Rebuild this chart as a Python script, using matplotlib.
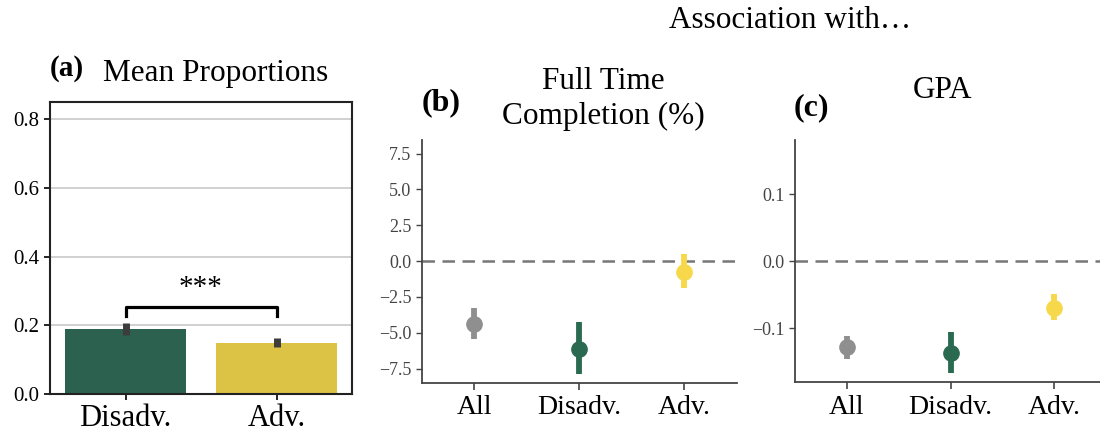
import numpy as np
import matplotlib.pyplot as plt

plt.rcParams['font.family'] = ['Liberation Serif', 'DejaVu Serif']

# panel (a): mean proportions
groups_a = ['Disadv.', 'Adv.']
props = [0.189, 0.149]
props_lo = [0.173, 0.136]
props_hi = [0.206, 0.163]
bar_colors = ['#2d614f', '#dcc346']

# panels (b), (c): associations
groups = ['All', 'Disadv.', 'Adv.']
pt_colors = ['#8f8f8f', '#2a6a50', '#f6d84a']
ftc = [-4.4, -6.1, -0.75]
ftc_lo = [-5.4, -7.9, -1.9]
ftc_hi = [-3.3, -4.25, 0.5]
gpa = [-0.128, -0.137, -0.069]
gpa_lo = [-0.145, -0.166, -0.087]
gpa_hi = [-0.112, -0.106, -0.048]

W, H = 1100, 434
fig = plt.figure(figsize=(W / 100, H / 100), dpi=100)


def box(l, t, r, b):
    return [l / W, 1 - b / H, (r - l) / W, (b - t) / H]


# ---- (a)
ax = fig.add_axes(box(50, 102, 352, 394))
x = np.arange(len(groups_a))
ax.bar(x, props, width=0.8, color=bar_colors, zorder=2)
for i in range(len(x)):
    ax.plot([x[i], x[i]], [props_lo[i], props_hi[i]], color='#3c3c3c', lw=5, zorder=3, solid_capstyle='butt')
ax.set_xlim(-0.5, 1.5)
ax.set_ylim(0, 0.85)
ax.set_yticks([0.0, 0.2, 0.4, 0.6, 0.8])
ax.set_yticklabels(['0.0', '0.2', '0.4', '0.6', '0.8'])
ax.yaxis.grid(True, color='#c8c8c8', lw=1.2, zorder=0)
ax.set_axisbelow(True)
ax.set_xticks(x)
ax.set_xticklabels(groups_a, fontsize=22)
ax.tick_params(axis='y', labelsize=15, length=4, width=1.2)
ax.tick_params(axis='x', length=4, width=1.2, pad=3.5)
for s in ax.spines.values():
    s.set_linewidth(1.5)
    s.set_color('#222222')
# significance bracket
ax.plot([0, 0, 1, 1], [0.227, 0.253, 0.253, 0.227], color='black', lw=2.3)
ax.text(0.5, 0.27, '***', ha='center', va='bottom', fontsize=21)
fig.text(50 / W, 1 - 69 / H, '(a)', fontsize=21, fontweight='bold', va='center', ha='left')
fig.text(216 / W, 1 - 74 / H, 'Mean Proportions', fontsize=22.5, va='center', ha='center')

fig.text(790 / W, 1 - 20 / H, 'Association with…', fontsize=22.5, va='center', ha='center')


def point_panel(rect, vals, lo, hi, ylim, yticks, yticklabels):
    ax = fig.add_axes(rect)
    xs = np.arange(len(groups))
    ax.axhline(0, color='#777777', ls='--', lw=1.8, dashes=(5, 3), zorder=1)
    for i in xs:
        ax.plot([xs[i], xs[i]], [lo[i], hi[i]], color=pt_colors[i], lw=4.2, solid_capstyle='butt', zorder=2)
        ax.plot(xs[i], vals[i], 'o', color=pt_colors[i], ms=11, zorder=3)
    ax.set_xlim(-0.5, 2.5)
    ax.set_ylim(*ylim)
    ax.set_yticks(yticks)
    ax.set_yticklabels(yticklabels)
    ax.set_xticks(xs)
    ax.set_xticklabels(groups, fontsize=20)
    ax.tick_params(axis='y', labelsize=13, labelcolor='#444444', color='#444444', length=4, width=1)
    ax.tick_params(axis='x', color='#444444', length=5, width=1.2, pad=4)
    for s in ['top', 'right']:
        ax.spines[s].set_visible(False)
    for s in ['left', 'bottom']:
        ax.spines[s].set_color('#444444')
        ax.spines[s].set_linewidth(1.3)
    return ax


# ---- (b)
point_panel(box(422, 140, 737, 383), ftc, ftc_lo, ftc_hi, (-8.5, 8.45),
            [-7.5, -5.0, -2.5, 0.0, 2.5, 5.0, 7.5],
            ['\u22127.5', '\u22125.0', '\u22122.5', '0.0', '2.5', '5.0', '7.5'])
fig.text(422 / W, 1 - 103 / H, '(b)', fontsize=23, fontweight='bold', va='center', ha='left')
fig.text(603 / W, 1 - 99 / H, 'Full Time\nCompletion (%)', fontsize=22.5, va='center', ha='center',
         linespacing=1.3)

# ---- (c)
point_panel(box(795, 140, 1106, 382), gpa, gpa_lo, gpa_hi, (-0.18, 0.181),
            [-0.1, 0.0, 0.1], ['\u22120.1', '0.0', '0.1'])
fig.text(794 / W, 1 - 108 / H, '(c)', fontsize=23, fontweight='bold', va='center', ha='left')
fig.text(943 / W, 1 - 90 / H, 'GPA', fontsize=22.5, va='center', ha='center')

fig.savefig('out.png', dpi=100)
